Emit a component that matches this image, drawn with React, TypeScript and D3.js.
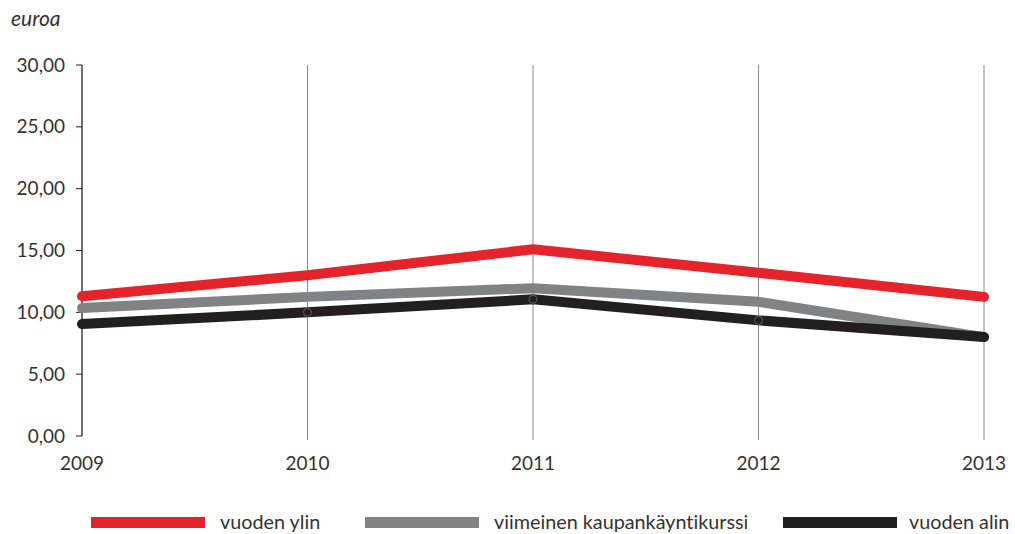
import React from "react";
import * as d3 from "d3";

const years = [2009, 2010, 2011, 2012, 2013];
const high = [11.3, 13.0, 15.1, 13.2, 11.25];
const last = [10.35, 11.25, 11.95, 10.85, 8.0];
const low = [9.05, 10.0, 11.05, 9.35, 8.0];
const yTicks = [0, 5, 10, 15, 20, 25, 30];
const seriesNames = ["vuoden ylin", "viimeinen kaupankäyntikurssi", "vuoden alin"];
const seriesColors = ["#e4232b", "#808285", "#231f20"];

const W = 1015, H = 534;
const FONT = "Lato, 'Open Sans', sans-serif";

export default function App() {
  const x = d3.scaleLinear().domain([2009, 2013]).range([82, 984]);
  const y = d3.scaleLinear().domain([0, 30]).range([436, 65]);
  const line = d3.line<number>().x((_, i) => x(years[i])).y((d) => y(d));
  const series = [high, last, low];
  const fmt = (v: number) => v.toFixed(2).replace(".", ",");
  const legendX = [
    { sw: 91, tx: 220 },
    { sw: 365, tx: 494 },
    { sw: 783, tx: 909 },
  ];
  return (
    <svg width={W} height={H} style={{ position: "absolute", left: 0, top: 0, background: "#fff", fontVariantLigatures: "none" }}>
      <text x={11} y={26} fontFamily={FONT} fontStyle="italic" fontSize={21} fill="#333">euroa</text>
      {years.slice(1).map((yr) => (
        <line key={yr} x1={x(yr)} x2={x(yr)} y1={y(30)} y2={y(0) + 4} stroke="#8a8a8a" strokeWidth={1} />
      ))}
      <line x1={82} x2={82} y1={y(30)} y2={y(0)} stroke="#231f20" strokeWidth={1.3} />
      {yTicks.map((t) => (
        <g key={t}>
          <line x1={76} x2={82} y1={y(t)} y2={y(t)} stroke="#231f20" strokeWidth={1} />
          <text x={65} y={y(t)} dy="0.35em" textAnchor="end" fontFamily={FONT} fontSize={19} fill="#333">{fmt(t)}</text>
        </g>
      ))}
      {years.map((yr) => (
        <text key={yr} x={x(yr)} y={470} textAnchor="middle" fontFamily={FONT} fontSize={19} fill="#333">{yr}</text>
      ))}
      {series.map((s, i) => (
        <path key={i} d={line(s) || ""} fill="none" stroke={seriesColors[i]} strokeWidth={10} strokeLinecap="round" strokeLinejoin="round" />
      ))}
      {low.slice(1, 4).map((v, i) => (
        <circle key={i} cx={x(years[i + 1])} cy={y(v)} r={4} fill="none" stroke="#6d6e70" strokeWidth={0.8} />
      ))}
      {seriesNames.map((n, i) => (
        <g key={n}>
          <rect x={legendX[i].sw} y={517} width={114} height={11} fill={seriesColors[i]} />
          <text x={legendX[i].tx} y={529} fontFamily={FONT} fontSize={19.8} fill="#333" style={{ fontVariantLigatures: "none" }}>{n}</text>
        </g>
      ))}
    </svg>
  );
}
